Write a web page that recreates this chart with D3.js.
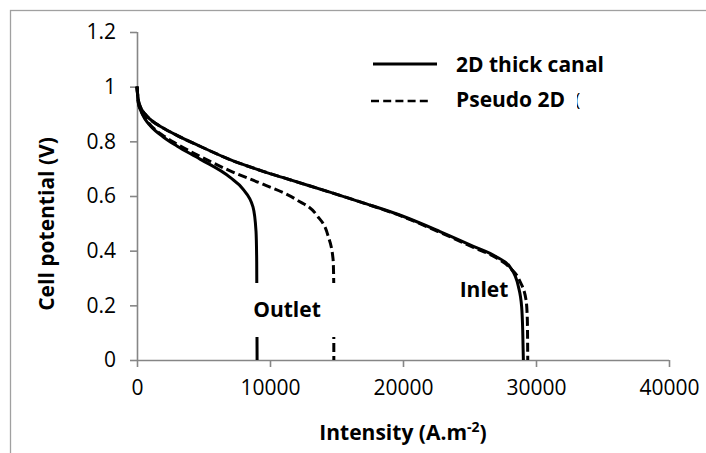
<!DOCTYPE html>
<html>
<head>
<meta charset="utf-8">
<script src="https://cdn.jsdelivr.net/npm/d3@7"></script>
<style>
  body { margin: 0; background: #fff; }
  svg text { font-family: "Open Sans", "Liberation Sans", sans-serif; fill: #000; }
  .tick text { font-size: 21px; }
  .axis-title, .legend-text, .curve-label { font-weight: bold; font-size: 21px; }
</style>
</head>
<body>
<div id="chart"></div>
<script>
// Define SVG area dimensions
var svgWidth = 706;
var svgHeight = 453;

// chart margins (plot area 137..669 x 32..360)
var chartMargin = { top: 32, right: 37, bottom: 93, left: 137 };
var chartWidth = svgWidth - chartMargin.left - chartMargin.right;
var chartHeight = svgHeight - chartMargin.top - chartMargin.bottom;

// tick values
var xTicks = [0, 10000, 20000, 30000, 40000];
var yTicks = [0, 0.2, 0.4, 0.6, 0.8, 1, 1.2];

// series: [intensity, cell potential]
var thickInlet = [[0, 1.0], [100, 0.95], [300, 0.922], [600, 0.9], [1000, 0.88], [2000, 0.848],
  [3000, 0.822], [4740, 0.782], [7000, 0.733], [9250, 0.694], [11000, 0.667], [14500, 0.614],
  [17000, 0.575], [20000, 0.526], [22780, 0.47], [25290, 0.416], [27040, 0.377], [28050, 0.34],
  [28670, 0.27], [28920, 0.195], [29000, 0.11], [29050, 0.0]];
var thickOutlet = [[0, 1.0], [100, 0.94], [300, 0.91], [600, 0.882], [1000, 0.857], [2000, 0.815],
  [3000, 0.783], [4740, 0.735], [7000, 0.668], [7970, 0.625], [8720, 0.56], [8950, 0.47],
  [9000, 0.36], [9030, 0.0]];
var pseudoInlet = [[0, 1.0], [100, 0.95], [300, 0.922], [600, 0.9], [1000, 0.88], [2000, 0.848],
  [3000, 0.822], [4740, 0.782], [7000, 0.733], [9250, 0.694], [11000, 0.667], [14500, 0.614],
  [17000, 0.575], [20000, 0.524], [22780, 0.467], [25290, 0.412], [27040, 0.373], [28050, 0.337],
  [28800, 0.287], [29250, 0.22], [29350, 0.146], [29380, 0.0]];
var pseudoOutlet = [[0, 1.0], [100, 0.942], [300, 0.912], [600, 0.885], [1000, 0.86], [2000, 0.82],
  [3000, 0.79], [4740, 0.745], [7000, 0.692], [9470, 0.643], [12000, 0.586], [13510, 0.53],
  [14360, 0.455], [14740, 0.37], [14790, 0.29], [14800, 0.0]];

var legendLabels = ["2D thick canal", "Pseudo 2D"];

var svg = d3.select("#chart")
  .append("svg")
  .attr("width", svgWidth)
  .attr("height", svgHeight);

// outer chart frame (runs off the right and bottom)
svg.append("rect")
  .attr("x", 10.5)
  .attr("y", 10.5)
  .attr("width", 720)
  .attr("height", 470)
  .attr("fill", "none")
  .attr("stroke", "#a0a0a0")
  .attr("stroke-width", 1.3);

var chartGroup = svg.append("g")
  .attr("transform", `translate(${chartMargin.left}, ${chartMargin.top})`);

var xScale = d3.scaleLinear().domain([0, 40000]).range([0, chartWidth]);
var yScale = d3.scaleLinear().domain([0, 1.2]).range([chartHeight, 0]);

var bottomAxis = d3.axisBottom(xScale).tickValues(xTicks).tickSize(7).tickPadding(13)
  .tickFormat(d3.format("d"));
var leftAxis = d3.axisLeft(yScale).tickValues(yTicks).tickSize(7).tickPadding(14)
  .tickFormat(d => d3.format("~g")(d));

var xAxis = chartGroup.append("g")
  .attr("transform", `translate(0, ${chartHeight})`)
  .call(bottomAxis);
var yAxis = chartGroup.append("g")
  .call(leftAxis);

[xAxis, yAxis].forEach(function (ax) {
  ax.select(".domain").attr("stroke", "#868686").attr("stroke-width", 1.6);
  ax.selectAll(".tick line").attr("stroke", "#868686").attr("stroke-width", 1.6);
});
xAxis.select(".domain").attr("d", `M0,0.5H${chartWidth}`);
yAxis.select(".domain").attr("d", `M0.5,${chartHeight}V0`);

// curves
var line = d3.line()
  .x(d => xScale(d[0]))
  .y(d => yScale(d[1]))
  .curve(d3.curveMonotoneX);

var curves = [
  { data: thickInlet, dash: null },
  { data: thickOutlet, dash: null },
  { data: pseudoInlet, dash: "9,4" },
  { data: pseudoOutlet, dash: "9,4" }
];

chartGroup.selectAll(".curve")
  .data(curves)
  .enter()
  .append("path")
  .attr("class", "curve")
  .attr("d", d => line(d.data))
  .attr("fill", "none")
  .attr("stroke", "#000")
  .attr("stroke-width", 3)
  .attr("stroke-dasharray", d => d.dash);

// Outlet label sits on a white box that hides the curves behind it
svg.append("rect")
  .attr("x", 241)
  .attr("y", 283)
  .attr("width", 97)
  .attr("height", 54)
  .attr("fill", "#fff");
svg.append("text")
  .attr("class", "curve-label")
  .attr("x", 287)
  .attr("y", 317)
  .attr("text-anchor", "middle")
  .text("Outlet");

svg.append("text")
  .attr("class", "curve-label")
  .attr("x", 484)
  .attr("y", 297)
  .attr("text-anchor", "middle")
  .text("Inlet");

// legend
var legend = svg.append("g");
legend.append("line")
  .attr("x1", 373).attr("x2", 437)
  .attr("y1", 64).attr("y2", 64)
  .attr("stroke", "#000").attr("stroke-width", 3);
legend.append("line")
  .attr("x1", 371).attr("x2", 431)
  .attr("y1", 101).attr("y2", 101)
  .attr("stroke", "#000").attr("stroke-width", 2.6)
  .attr("stroke-dasharray", "8,4.2");
legend.append("text")
  .attr("class", "legend-text")
  .attr("x", 456)
  .attr("y", 72)
  .text(legendLabels[0]);
legend.append("text")
  .attr("class", "legend-text")
  .attr("x", 456)
  .attr("y", 107)
  .text(legendLabels[1]);

// clipped leftover glyph after the second legend entry
svg.append("clipPath").attr("id", "glyphClip")
  .append("rect").attr("x", 577).attr("y", 90).attr("width", 3).attr("height", 20);
svg.append("text")
  .attr("x", 575)
  .attr("y", 106)
  .attr("clip-path", "url(#glyphClip)")
  .attr("fill", "#999")
  .style("font-size", "18px")
  .text("(");

// axis titles
var xTitle = svg.append("text")
  .attr("class", "axis-title")
  .attr("x", 403)
  .attr("y", 440)
  .attr("text-anchor", "middle");
xTitle.append("tspan").text("Intensity (A.m");
xTitle.append("tspan").attr("dy", -8).style("font-size", "14px").text("-2");
xTitle.append("tspan").attr("dy", 8).text(")");

svg.append("text")
  .attr("class", "axis-title")
  .attr("transform", "translate(54, 224) rotate(-90)")
  .attr("text-anchor", "middle")
  .text("Cell potential (V)");
</script>
</body>
</html>
